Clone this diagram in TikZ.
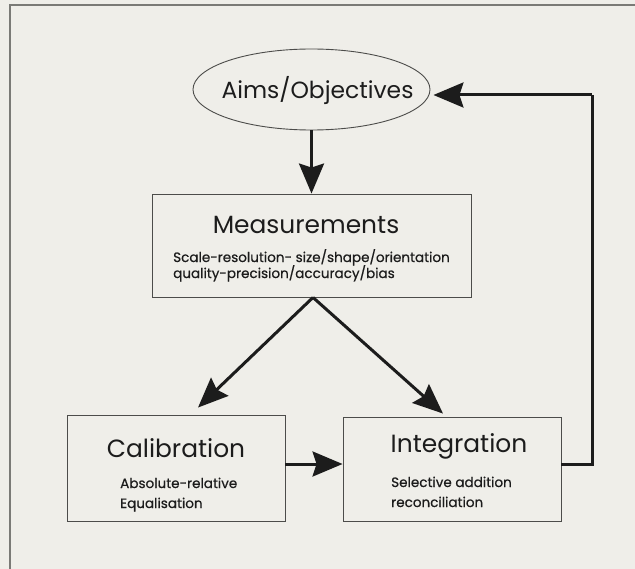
\documentclass[tikz,border=0pt]{standalone}
\usepackage{fontspec}
\setmainfont{Poppins}
\newfontfamily\detailfont{Poppins}[FakeBold=0.5]
\usetikzlibrary{shapes.geometric,arrows.meta,calc}
\definecolor{paper}{HTML}{EFEEE9}
\definecolor{rule}{HTML}{7A7A76}
\definecolor{boxline}{HTML}{4C4C4A}
\definecolor{ink}{HTML}{1C1C1C}
\begin{document}
\begin{tikzpicture}[x=1bp,y=-1bp,
  frameline/.style={draw=rule,line width=1.4bp},
  stagebox/.style={draw=boxline,line width=0.9bp,rectangle,inner sep=0pt},
  aimshape/.style={draw=boxline,line width=0.9bp,ellipse,inner sep=0pt,
    minimum width=237bp,minimum height=81bp},
  heading/.style={anchor=base,inner sep=0pt,text=ink,font=\fontsize{25}{29}\selectfont},
  detail/.style={anchor=base west,inner sep=0pt,text=ink,font=\detailfont\fontsize{13.6}{16}\selectfont},
  flow/.style={draw=ink,line width=3bp,
    -{Stealth[length=30bp,width=25bp,inset=4bp]}}]
% page and its frame
\fill[paper] (0,0) rectangle (635,569);
\useasboundingbox (0,0) rectangle (635,569);
\draw[frameline] (635,5) -- (10,5) -- (10,569);

% goal ellipse
\node[aimshape] (aims) at (311.5,89.5) {};
\node[heading,font=\fontsize{23.5}{28}\selectfont] (aimstext) at (317.5,99) {Aims/Objectives};

% measurements box
\node[stagebox,minimum width=319bp,minimum height=103bp] (meas) at (311.5,245.5) {};
\node[heading] (meashead) at (306,233) {Measurements};
\node[detail] (measa) at (173,262) {Scale-resolution- size/shape/orientation};
\node[detail] (measb) at (173,278) {quality-precision/accuracy/bias};

% calibration box
\node[stagebox,minimum width=218bp,minimum height=106bp] (calib) at (176,468) {};
\node[heading] (calibhead) at (176,457) {Calibration};
\node[detail] (caliba) at (120,488) {Absolute-relative};
\node[detail] (calibb) at (120,508) {Equalisation};

% integration box
\node[stagebox,minimum width=218bp,minimum height=104bp] (integ) at (452,469) {};
\node[heading] (integhead) at (459,452) {Integration};
\node[detail] (intega) at (391,487) {Selective addition};
\node[detail] (integb) at (391,507) {reconciliation};

% connectors
\coordinate (midline) at (0,464);
\coordinate (fb) at (592,95);
\draw[flow] (aims.south) -- (meas.north);
\draw[flow] ($(meas.south)+(1.5,0)$) -- ($(calib.north)+(22,-7)$);
\draw[flow] ($(meas.south)+(1.5,0)$) -- ($(integ.north)+(-9,-3)$);
\draw[flow] (calib.east |- midline) -- (integ.west |- midline);
\draw[flow,-] (integ.east |- midline) -| (fb);
\draw[flow] (fb) -- ($(fb -| aims.east)+(3,0)$);
\end{tikzpicture}
\end{document}
